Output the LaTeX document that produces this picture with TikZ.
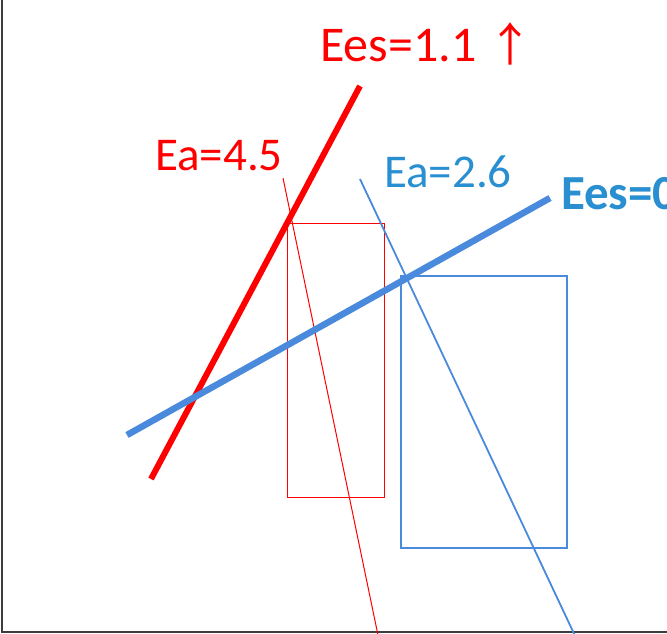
\documentclass[tikz,border=0pt]{standalone}
\usepackage{fontspec}
\setmainfont{Carlito}
\newfontfamily\arrowfont{Noto Sans CJK SC}
\definecolor{lineblue}{RGB}{74,138,220}
\definecolor{textblue}{RGB}{42,143,208}
\definecolor{axisgray}{RGB}{60,60,60}
\begin{document}
\begin{tikzpicture}[x=1pt,y=-1pt,
  axis/.style={draw=axisgray,line width=1.6pt},
  thinred/.style={draw=red,line width=1pt},
  thinblue/.style={draw=lineblue,line width=1.8pt},
  thickred/.style={draw=red,line width=6pt},
  thickblue/.style={draw=lineblue,line width=6.5pt},
  lbl/.style={inner sep=0pt,anchor=base west}]
\useasboundingbox (0,0) rectangle (667,634);
\clip (0,0) rectangle (667,634);
% axes
\coordinate (o) at (2,632);
\coordinate (ytop) at (2,0);
\coordinate (xend) at (667,632);
\draw[axis] (ytop) -- (o) -- (xend);
% rectangles
\draw[thinred] (287,223) rectangle (384,497);
\draw[thinblue] (401,276) rectangle (567,548);
% thin lines
\coordinate (r1) at (283,178);
\coordinate (r2) at (379,640);
\draw[thinred] (r1) -- (r2);
\coordinate (b1) at (360,179);
\coordinate (b2) at (577,640);
\draw[thinblue] (b1) -- (b2);
% thick lines
\coordinate (R1) at (151,479);
\coordinate (R2) at (360,86);
\draw[thickred] (R1) -- (R2);
\coordinate (B1) at (127,435);
\coordinate (B2) at (550,198);
\draw[thickblue] (B1) -- (B2);
% labels
\node[lbl,text=red,font=\fontsize{50}{55}\selectfont] (t1) at (320,62) {Ees=1.1 {\arrowfont\fontsize{46}{50}\selectfont ↑}};
\node[lbl,text=red,font=\fontsize{47}{52}\selectfont] (t2) at (155,170) {Ea=4.5};
\node[lbl,text=textblue,font=\fontsize{47}{52}\selectfont] (t3) at (384,187) {Ea=2.6};
\node[lbl,text=textblue,font=\fontsize{49}{54}\selectfont\bfseries] (t4) at (561,209) {Ees=0};
\end{tikzpicture}
\end{document}
